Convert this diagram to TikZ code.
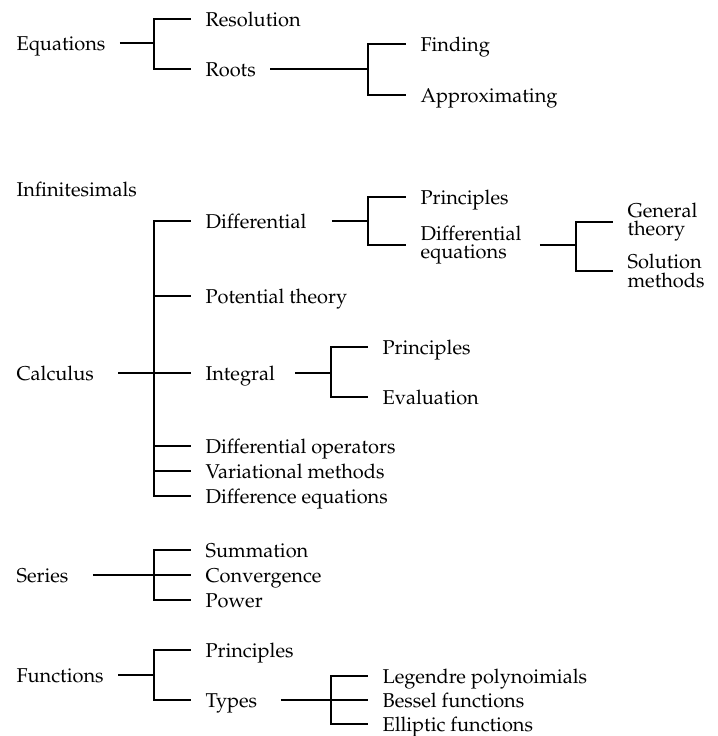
\documentclass[tikz,border=0pt]{standalone}
\usepackage[T1]{fontenc}
\usepackage{mathpazo}
\usepackage{tikz}
\usetikzlibrary{positioning}

\begin{document}
\begin{tikzpicture}
	[x=0.5pt, y=-0.5pt, line width=0.55pt,
	topic/.style = {anchor=west, inner xsep=7pt, inner ysep=0pt, text height=0.7em, text depth=0pt, font=\fontsize{10}{9.2}\selectfont},
	twoline/.style = {anchor=west, inner xsep=7pt, inner ysep=0pt, align=left, font=\fontsize{10}{9.2}\selectfont}]
	\useasboundingbox (0,0) rectangle (718,736);
	% equations
	\node[topic] (equations) at (2,43) {Equations};
	\node[topic] (resolution) at (191,19) {Resolution};
	\node[topic] (roots) at (191,69) {Roots};
	\node[topic] (finding) at (406,44) {Finding};
	\node[topic] (approx) at (406,95) {Approximating};
	\coordinate (eqfork) at (154,43);
	\coordinate (rootfork) at (368,69);
	\draw (equations) -- (eqfork);
	\draw (resolution.west) -| (eqfork) |- (roots.west);
	\draw (roots) -- (rootfork);
	\draw (finding.west) -| (rootfork) |- (approx.west);
	% calculus
	\node[topic] (infinitesimals) at (2,189) {Infinitesimals};
	\node[topic] (calculus) at (2,373) {Calculus};
	\node[topic] (cdiff) at (191,221) {Differential};
	\node[topic] (cpot) at (191,296) {Potential theory};
	\node[topic] (cint) at (191,373) {Integral};
	\node[topic] (cops) at (191,446) {Differential operators};
	\node[topic] (cvar) at (191,471) {Variational methods};
	\node[topic] (cdiffer) at (191,496) {Difference equations};
	\node[topic] (dprin) at (406,197) {Principles};
	\node[twoline] (deqs) at (406,245) {Differential\\equations};
	\node[twoline] (general) at (613,222) {General\\theory};
	\node[twoline] (solution) at (613,271) {Solution\\methods};
	\node[topic] (iprin) at (368,347) {Principles};
	\node[topic] (ieval) at (368,397) {Evaluation};
	\coordinate (calcfork) at (154,373);
	\coordinate (difffork) at (368,221);
	\coordinate (deqfork) at (576,245);
	\coordinate (intfork) at (331,373);
	\draw ([xshift=5pt]calculus.east) -- (calcfork);
	\draw (cdiff.west) -| (calcfork) |- (cdiffer.west);
	\draw (cpot.west) -- (cpot.west -| calcfork);
	\draw (cint) -- (calcfork);
	\draw (cops.west) -- (cops.west -| calcfork);
	\draw (cvar.west) -- (cvar.west -| calcfork);
	\draw ([xshift=5.5pt]cdiff.east) -- (difffork);
	\draw (dprin.west) -| (difffork) |- (deqs.west);
	\draw ([xshift=2pt]deqs.east) -- (deqfork);
	\draw (general.west) -| (deqfork) |- (solution.west);
	\draw ([xshift=3pt]cint.east) -- (intfork);
	\draw (iprin.west) -| (intfork) |- (ieval.west);
	% series
	\node[topic] (series) at (2,575) {Series};
	\node[topic] (summation) at (191,550) {Summation};
	\node[topic] (convergence) at (191,575) {Convergence};
	\node[topic] (power) at (191,600) {Power};
	\coordinate (serfork) at (154,575);
	\draw ([xshift=5pt]series.east) -- (serfork);
	\draw (summation.west) -| (serfork) |- (power.west);
	\draw (convergence) -- (serfork);
	% functions
	\node[topic] (functions) at (2,675) {Functions};
	\node[topic] (fprin) at (191,650) {Principles};
	\node[topic] (types) at (191,700) {Types};
	\node[topic] (legendre) at (368,676) {Legendre polynoimials};
	\node[topic] (bessel) at (368,700) {Bessel functions};
	\node[topic] (elliptic) at (368,724) {Elliptic functions};
	\coordinate (funcfork) at (154,675);
	\coordinate (typefork) at (331,700);
	\draw (functions) -- (funcfork);
	\draw (fprin.west) -| (funcfork) |- (types.west);
	\draw ([xshift=4.5pt]types.east) -- (typefork);
	\draw (legendre.west) -| (typefork) |- (elliptic.west);
	\draw (bessel) -- (typefork);
\end{tikzpicture}
\end{document}
